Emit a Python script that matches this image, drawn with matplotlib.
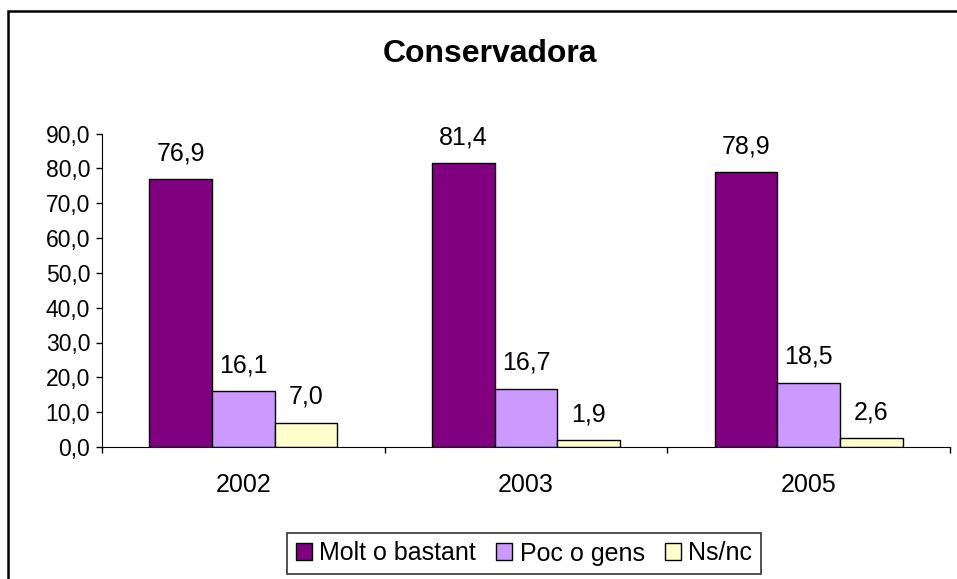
import matplotlib
matplotlib.use('AGG')
import matplotlib.pyplot as plt
import matplotlib.patches as mpatches
import numpy as np

plt.rcParams['font.family'] = ['Liberation Sans', 'DejaVu Sans']

years = ['2002', '2003', '2005']
molt = [76.9, 81.4, 78.9]
poc = [16.1, 16.7, 18.5]
nsnc = [7.0, 1.9, 2.6]
series_names = ['Molt o bastant', 'Poc o gens', 'Ns/nc']
colors = ['#800080', '#CC99FF', '#FFFFCC']

W, H = 957, 579
fig = plt.figure(figsize=(W / 100, H / 100), dpi=100)
ax = fig.add_axes([102 / W, 1 - 447 / H, (950 - 102) / W, (447 - 133.5) / H])

x = np.arange(len(years))
bw = 0.222
for i, (vals, name, col) in enumerate(zip([molt, poc, nsnc], series_names, colors)):
    pos = x + (i - 1) * bw
    ax.bar(pos, vals, width=bw, color=col, edgecolor='black', linewidth=1, label=name)
    for px, v in zip(pos, vals):
        ax.annotate(('%.1f' % v).replace('.', ','), (px, v), xytext=(0, 10),
                    textcoords='offset points', ha='center', va='bottom', fontsize=18)

ax.set_xlim(-0.5, len(years) - 0.5)
ax.set_ylim(0, 90)
ax.set_yticks(np.arange(0, 91, 10))
ax.set_yticklabels([('%.1f' % t).replace('.', ',') for t in np.arange(0, 91, 10)], fontsize=16.5)
ax.set_xticks(x)
ax.set_xticklabels(years, fontsize=18)
ax.set_xticks(np.arange(-0.5, len(years), 1), minor=True)
ax.tick_params(axis='x', which='major', length=0, pad=19)
ax.tick_params(axis='x', which='minor', length=4.5, direction='out', width=1)
ax.tick_params(axis='y', length=4.5, direction='out', width=1, pad=4)
ax.spines['top'].set_visible(False)
ax.spines['right'].set_visible(False)

fig.text(490 / W, 1 - 54 / H, 'Conservadora', ha='center', va='center',
         fontsize=23, fontweight='bold')

leg = fig.legend(loc='center', bbox_to_anchor=(524 / W, 1 - 553.5 / H), ncol=3,
                 fontsize=18, frameon=True, fancybox=False, edgecolor='black',
                 handlelength=0.65, handleheight=0.65, handletextpad=0.3,
                 columnspacing=0.8, borderpad=0.35, borderaxespad=0)
leg.get_frame().set_linewidth(1.2)

border = mpatches.Rectangle((8 / W, -0.1), 1.2, 1 - 11 / H + 0.1, transform=fig.transFigure,
                            fill=False, edgecolor='black', linewidth=1.8)
fig.patches.append(border)

fig.savefig('out.png', dpi=100)
